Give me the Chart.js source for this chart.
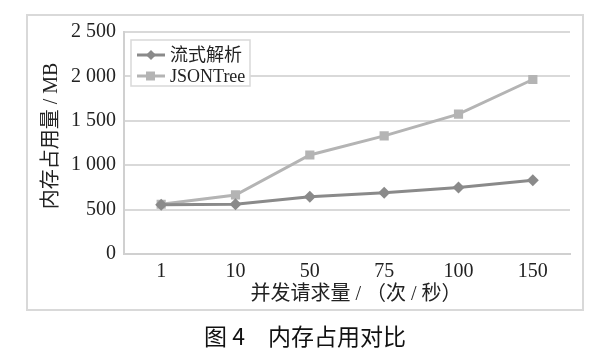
<!DOCTYPE html>
<html>
<head>
<meta charset="utf-8">
<script src="https://cdn.jsdelivr.net/npm/chart.js@4"></script>
<style>
  html, body { margin: 0; padding: 0; background: #fff; }
  #wrap { width: 600px; height: 351px; }
</style>
</head>
<body>
<div id="wrap"><canvas id="memChart" width="600" height="351"></canvas></div>
<script>
// datos
const categories = ['1', '10', '50', '75', '100', '150'];
const streamValues = [555, 560, 645, 690, 750, 830];
const treeValues = [560, 665, 1115, 1330, 1575, 1965];
const yTicks = [0, 500, 1000, 1500, 2000, 2500];
const seriesNames = ['流式解析', 'JSONTree'];
const yTitle = '内存占用量 / MB';
const xTitle = '并发请求量 / （次 / 秒）';
const captionNum = '图 4';
const captionText = '内存占用对比';

const serif = '"Liberation Serif", "Noto Sans CJK SC", serif';
const darkGray = '#8a8a8a';
const lightGray = '#b4b4b4';

function fmt(v) {
  // separador de miles con espacio, como en la figura
  return String(v).replace(/\B(?=(\d{3})+(?!\d))/g, ' ');
}

// caja exterior, leyenda interior y pie de figura
const decor = {
  id: 'decor',
  beforeDraw(chart) {
    const c = chart.ctx;
    c.save();
    c.strokeStyle = '#d9d9d9';
    c.lineWidth = 2;
    c.strokeRect(27, 15, 556, 295);
    c.restore();
  },
  afterDraw(chart) {
    const c = chart.ctx;
    c.save();
    // leyenda
    c.fillStyle = '#fff';
    c.fillRect(131, 40, 119, 46);
    c.strokeStyle = '#d9d9d9';
    c.lineWidth = 1.5;
    c.strokeRect(131, 40, 119, 46);
    chart.data.datasets.forEach((ds, i) => {
      const y = 55 + i * 21;
      c.strokeStyle = ds.borderColor;
      c.lineWidth = 3;
      c.beginPath();
      c.moveTo(137, y);
      c.lineTo(165, y);
      c.stroke();
      c.fillStyle = ds.borderColor;
      c.beginPath();
      if (ds.pointStyle === 'rectRot') {
        c.moveTo(151, y - 5); c.lineTo(156, y); c.lineTo(151, y + 5); c.lineTo(146, y);
      } else {
        c.rect(146, y - 4.5, 9, 9);
      }
      c.closePath();
      c.fill();
      c.fillStyle = '#222';
      c.font = '18px ' + serif;
      c.textBaseline = 'middle';
      c.textAlign = 'left';
      c.fillText(ds.label, 170, y + 1);
    });
    // título del eje y
    c.translate(52, 136);
    c.rotate(-Math.PI / 2);
    c.fillStyle = '#222';
    c.font = '20px ' + serif;
    c.textAlign = 'center';
    c.textBaseline = 'middle';
    c.fillText(yTitle, 0, 0);
    c.setTransform(1, 0, 0, 1, 0, 0);
    // título del eje x
    c.fillText(xTitle, 356, 295);
    // pie
    c.font = '23px "Noto Sans CJK SC", sans-serif';
    c.fillStyle = '#111';
    c.textAlign = 'left';
    c.fillText(captionNum, 204, 336);
    c.fillText(captionText, 268, 336);
    c.restore();
  }
};

new Chart(document.getElementById('memChart').getContext('2d'), {
  type: 'line',
  data: {
    labels: categories,
    datasets: [
      {
        label: seriesNames[0],
        data: streamValues,
        borderColor: darkGray,
        backgroundColor: darkGray,
        borderWidth: 3,
        pointStyle: 'rectRot',
        pointRadius: 6,
        pointBorderWidth: 0,
        tension: 0
      },
      {
        label: seriesNames[1],
        data: treeValues,
        borderColor: lightGray,
        backgroundColor: lightGray,
        borderWidth: 3,
        pointStyle: 'rect',
        pointRadius: 6.5,
        pointBorderWidth: 0,
        tension: 0
      }
    ]
  },
  options: {
    responsive: false,
    animation: false,
    layout: { padding: { left: 27, right: 30, top: 32, bottom: 0 } },
    plugins: { legend: { display: false }, tooltip: { enabled: false } },
    scales: {
      x: {
        offset: true,
        grid: { display: false, drawTicks: false },
        border: { display: true, color: '#d0d0d0', width: 2 },
        ticks: { color: '#222', font: { family: serif, size: 20 }, padding: 6 },
        afterFit(scale) { scale.height = 97; }
      },
      y: {
        min: 0,
        max: 2500,
        afterBuildTicks(scale) { scale.ticks = yTicks.map(v => ({ value: v })); },
        grid: { color: '#d9d9d9', lineWidth: 2, drawTicks: false },
        border: { display: true, color: '#d0d0d0', width: 2 },
        ticks: {
          color: '#222',
          font: { family: serif, size: 20 },
          padding: 8,
          callback: v => fmt(v)
        },
        afterFit(scale) { scale.width = 97; }
      }
    }
  },
  plugins: [decor]
});
</script>
</body>
</html>
